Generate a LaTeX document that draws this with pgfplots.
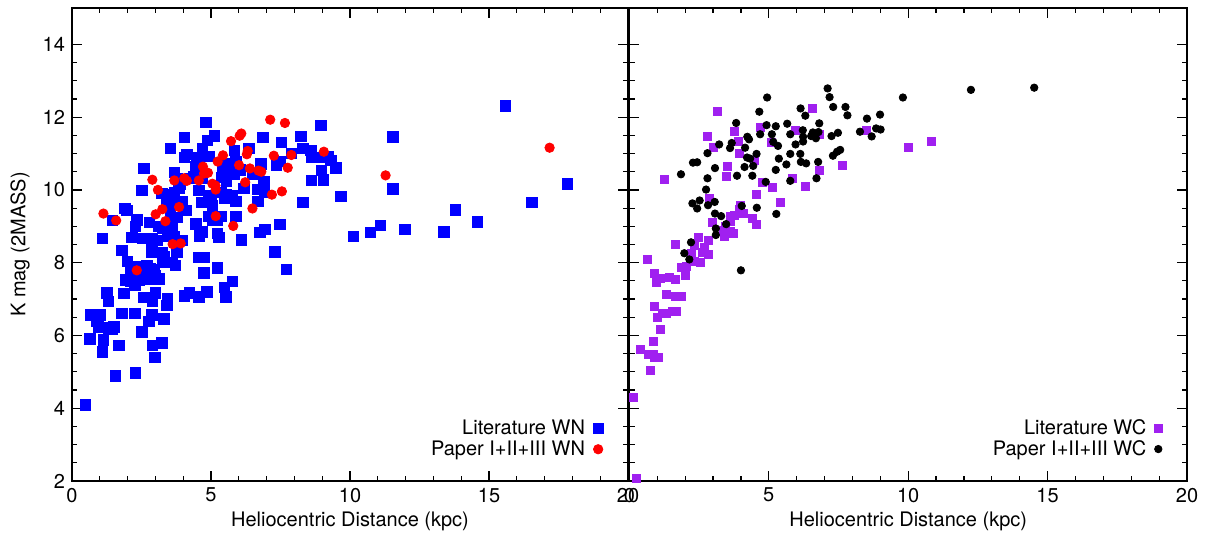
\documentclass[border=0pt]{standalone}
\usepackage{fontspec}
\setmainfont{TeX Gyre Heros}
\usepackage{pgfplots}
\pgfplotsset{compat=1.18}
\definecolor{wcpurple}{RGB}{160,32,240}

\pgfplotsset{
  kpanel/.style={
    scale only axis, height=236.5pt,
    xmin=0, xmax=20, ymin=2, ymax=15,
    xtick={0,5,10,15,20}, minor x tick num=4,
    ytick={2,4,6,8,10,12,14}, minor y tick num=3,
    tick align=inside, major tick length=5pt, minor tick length=2.6pt,
    axis line style={line width=0.8pt}, every tick/.style={black, line width=0.6pt},
    /pgf/number format/assume math mode=true,
    font=\fontsize{10}{12}\selectfont,
    ticklabel style={font=\fontsize{10}{12}\selectfont},
    xlabel={Heliocentric Distance (kpc)},
    every axis x label/.style={at={(axis description cs:0.5,-0.085)}, anchor=center},
    legend plot pos=right, legend cell align=right,
    legend style={draw=none, fill=none, at={(0.96,0.035)}, anchor=south east,
      font=\fontsize{10}{12}\selectfont, row sep=-2.5pt, column sep=2pt, inner sep=1pt},
  },
}

\begin{document}
\begin{tikzpicture}
\useasboundingbox (0,0) rectangle (603.5pt,268.5pt);

\begin{axis}[kpanel, width=278pt, at={(36pt,28pt)}, anchor=south west,
  ylabel={K mag (2MASS)},
  every axis y label/.style={at={(axis description cs:-0.0935,0.5)}, anchor=center, rotate=90}]
\addplot[only marks, mark=square*, color=blue, mark size=2.6pt] table {
4.81 11.85
8.96 11.77
5.13 11.49
4.05 11.44
4.88 11.36
6.86 11.44
8.23 11.47
7.54 11.30
3.53 11.14
4.70 11.14
6.36 11.14
5.85 11.08
7.90 11.01
8.30 11.14
8.59 11.08
4.13 10.97
4.05 10.89
4.56 10.89
4.92 10.92
4.49 10.81
4.45 10.64
8.62 10.89
8.95 10.89
9.20 10.92
9.31 10.81
9.49 10.61
8.98 10.53
9.05 10.28
8.62 10.26
9.67 9.82
8.30 9.65
10.13 8.72
7.48 9.05
7.72 7.81
7.30 8.30
6.76 8.83
6.94 8.91
6.10 8.63
6.68 9.68
5.89 9.27
6.90 10.23
6.68 10.01
6.93 9.93
6.50 10.42
6.18 10.04
6.79 10.72
7.36 10.67
7.48 10.78
5.89 10.78
6.04 10.55
5.82 10.42
5.56 10.23
5.38 10.35
5.42 10.53
5.49 10.72
5.64 10.64
5.74 10.70
5.38 9.93
5.56 9.87
5.78 9.84
5.49 9.76
5.89 9.68
4.99 9.84
4.92 9.68
5.06 9.57
4.67 9.65
4.92 9.27
5.21 9.27
5.38 9.27
5.06 9.16
5.24 9.16
4.45 9.07
4.70 8.85
4.59 8.74
5.24 8.80
5.28 8.69
4.56 8.14
4.77 8.14
4.74 7.72
5.24 7.86
5.78 7.48
5.49 7.32
4.70 10.31
4.59 10.39
4.38 10.37
4.27 10.31
4.56 9.98
3.69 10.48
3.80 10.31
3.91 10.17
3.84 10.04
3.69 9.93
3.23 9.90
3.44 9.87
3.59 9.82
3.41 9.65
3.73 9.68
3.95 9.68
4.09 9.43
3.51 9.54
3.55 9.38
3.80 9.24
3.59 9.10
3.41 9.05
3.26 8.94
3.12 8.99
3.62 8.91
3.66 8.72
3.44 8.74
3.98 8.61
3.77 8.30
2.79 9.10
2.58 10.59
2.51 9.98
1.91 9.49
1.98 9.43
1.46 9.16
2.33 9.18
2.29 8.99
1.10 8.66
2.15 8.69
2.54 8.66
2.87 8.66
3.05 8.61
2.87 8.47
2.87 8.30
1.79 8.33
3.23 8.28
3.33 8.17
3.26 8.00
3.62 8.00
3.73 7.92
2.00 8.03
2.33 7.89
2.69 7.92
2.83 7.83
2.97 7.81
2.11 7.72
2.33 7.67
2.76 7.67
3.01 7.64
3.12 7.56
1.93 7.53
2.11 7.50
2.40 7.53
2.26 7.39
2.76 7.56
1.26 7.17
1.86 7.15
1.32 6.93
2.58 7.04
3.01 7.17
2.90 6.95
3.44 7.01
3.41 6.82
4.05 7.09
4.23 7.17
4.56 7.06
4.85 7.20
5.53 7.06
0.67 6.57
1.00 6.57
0.89 6.40
0.96 6.24
1.32 6.21
1.46 6.16
1.50 6.24
1.79 6.60
2.26 6.60
2.87 6.57
2.76 6.38
3.30 6.46
2.51 6.10
0.64 5.91
1.14 5.88
1.10 5.55
1.68 5.72
2.90 5.72
3.23 5.80
2.98 5.39
1.57 4.89
2.29 4.97
0.49 4.09
15.58 12.31
11.55 11.46
11.55 10.03
17.83 10.17
16.55 9.65
13.80 9.45
14.59 9.12
10.74 8.83
11.10 9.02
11.98 8.91
13.38 8.85
};
\addlegendentry{Literature WN}
\addplot[only marks, mark=*, color=red, mark size=2.35pt] table {
7.13 11.93
7.66 11.84
6.09 11.55
6.03 11.49
5.72 11.34
6.32 11.07
6.29 10.98
5.43 10.95
7.26 10.94
7.89 10.96
9.06 11.05
5.24 10.78
6.01 10.68
4.71 10.64
4.89 10.47
4.75 10.45
6.40 10.59
6.71 10.53
6.81 10.50
7.76 10.61
4.04 10.32
4.13 10.25
4.56 10.26
3.68 10.26
2.89 10.28
3.09 10.00
5.05 10.17
5.16 10.12
5.17 10.01
6.23 10.21
7.55 9.96
7.19 9.87
3.85 9.53
3.25 9.47
3.01 9.33
1.13 9.35
1.59 9.16
3.36 9.14
6.49 9.49
5.17 9.28
5.80 9.01
3.62 8.51
3.91 8.53
2.33 7.79
11.28 10.40
17.18 11.16
};
\addlegendentry{Paper I+II+III WN}
\end{axis}

\begin{axis}[kpanel, width=278.8pt, at={(314.7pt,28pt)}, anchor=south west,
  yticklabels={}]
\addplot[only marks, mark=square*, color=wcpurple, mark size=2pt] table {
3.15 12.15
6.58 12.24
4.71 11.73
3.76 11.60
5.94 11.63
6.83 11.53
8.50 11.63
2.79 11.47
3.92 11.33
5.08 11.30
3.00 11.18
3.96 11.00
4.47 10.80
10.00 11.16
10.82 11.32
7.63 10.67
3.53 10.64
3.49 10.37
1.27 10.30
6.83 10.53
5.84 10.31
4.77 10.22
5.12 10.06
6.33 10.09
4.57 9.89
5.41 9.67
2.88 9.76
3.97 9.58
3.95 9.47
4.09 9.36
3.75 9.31
3.62 9.27
3.64 9.13
4.41 9.21
4.54 9.06
2.99 9.10
3.43 8.99
3.37 8.88
3.61 8.85
3.73 8.80
3.40 8.72
2.46 8.70
2.85 8.61
1.64 8.50
2.32 8.47
2.69 8.42
2.61 8.29
2.82 8.22
2.22 8.25
2.32 8.03
2.56 8.00
0.66 8.08
1.88 7.87
2.06 7.89
0.91 7.70
1.10 7.56
0.98 7.45
1.45 7.59
1.66 7.54
2.00 7.65
1.33 7.13
1.64 7.06
1.88 7.08
0.91 6.80
1.02 6.49
1.18 6.60
1.34 6.60
1.54 6.65
1.70 6.65
1.12 6.18
0.87 5.85
0.41 5.61
0.67 5.47
0.85 5.49
0.88 5.39
1.04 5.41
0.76 5.03
0.13 4.31
0.26 2.08
};
\addlegendentry{Literature WC}
\addplot[only marks, mark=*, color=black, mark size=1.85pt] table {
7.11 12.79
4.94 12.54
7.18 12.55
9.81 12.54
7.31 12.28
7.75 12.28
6.31 12.04
6.14 12.24
7.82 12.05
8.99 12.07
8.52 11.96
4.66 12.15
3.83 11.84
4.92 11.78
5.25 11.75
5.66 11.82
6.81 11.83
6.22 11.64
6.58 11.58
6.78 11.59
5.77 11.53
5.11 11.53
4.69 11.53
6.23 11.46
6.52 11.48
6.69 11.42
7.48 11.57
7.25 11.48
8.27 11.60
8.85 11.69
9.01 11.66
8.69 11.47
4.23 11.46
4.29 11.39
3.67 11.29
3.22 11.25
3.61 11.15
4.15 11.16
5.16 11.32
5.33 11.21
5.96 11.25
6.23 11.33
2.80 11.01
4.56 10.99
4.22 10.89
4.33 10.86
5.77 10.99
6.13 10.99
5.36 10.86
6.15 10.77
6.34 10.73
6.77 10.77
5.63 10.70
7.30 10.94
7.45 11.05
7.56 11.10
2.28 10.75
2.43 10.76
3.07 10.60
4.13 10.63
4.44 10.66
5.25 10.55
1.85 10.43
2.80 10.32
3.86 10.39
4.41 10.39
4.89 10.22
5.77 10.25
6.71 10.32
2.75 10.01
2.26 9.63
2.52 9.71
2.43 9.49
2.82 9.58
3.06 9.67
3.07 9.35
3.29 9.28
4.03 9.56
4.57 9.51
5.27 9.34
3.47 9.06
3.10 8.94
3.10 8.76
2.21 8.56
1.97 8.26
2.15 8.09
4.00 7.79
12.25 12.75
14.52 12.81
};
\addlegendentry{Paper I+II+III WC}
\end{axis}
\end{tikzpicture}
\end{document}
